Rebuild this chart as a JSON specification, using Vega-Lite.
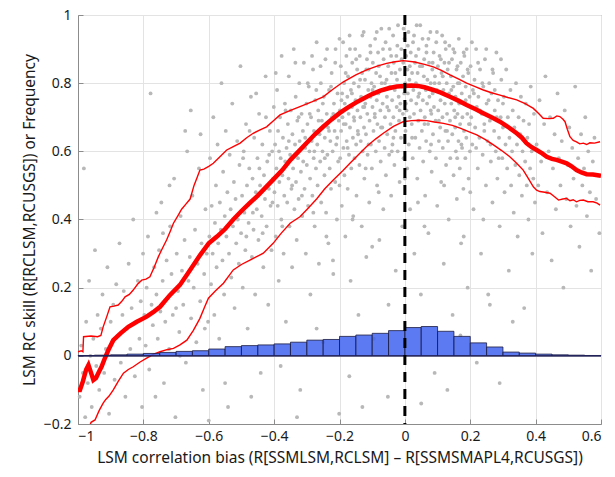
{
"$schema":"https://vega.github.io/schema/vega-lite/v6.json",
"autosize":"none","width":523,"height":409,
"padding":{"left":78,"top":15,"right":14,"bottom":53},
"background":"white",
"config":{"view":{"stroke":"#8c8c8c","strokeWidth":1},
"axis":{"gridColor":"#e3e3e3","domainColor":"#8c8c8c","tickColor":"#8c8c8c","tickSize":-5,"labelFont":"Noto Sans","titleFont":"Noto Sans","labelFontSize":14,"titleFontSize":15.5,"labelColor":"#1a1a1a","titleColor":"#1a1a1a","titleFontWeight":"normal"}},
"datasets":{
"zero":[{"v":0}],
"pts":[
{"x":-0.995,"y":-0.12},{"x":-0.99,"y":0.03},{"x":-0.985,"y":-0.05},{"x":-0.982,"y":0.55},{"x":-0.978,"y":-0.18},{"x":-0.975,"y":0.1},{"x":-0.97,"y":-0.08},{"x":-0.966,"y":0.22},{"x":-0.962,"y":0.0},{"x":-0.958,"y":-0.15},{"x":-0.953,"y":0.05},{"x":-0.948,"y":0.31},{"x":-0.944,"y":-0.03},{"x":-0.94,"y":0.12},{"x":-0.935,"y":-0.1},{"x":-0.93,"y":0.08},{"x":-0.925,"y":0.18},{"x":-0.92,"y":-0.05},{"x":-0.915,"y":0.02},{"x":-0.91,"y":0.26},{"x":-0.905,"y":-0.17},{"x":-0.9,"y":0.1},{"x":-0.896,"y":0.04},{"x":-0.892,"y":0.15},{"x":-0.888,"y":-0.07},{"x":-0.883,"y":0.21},{"x":-0.878,"y":0.06},{"x":-0.873,"y":0.33},{"x":-0.869,"y":-0.02},{"x":-0.864,"y":0.12},{"x":-0.86,"y":0.19},{"x":-0.855,"y":-0.12},{"x":-0.85,"y":0.08},{"x":-0.845,"y":0.27},{"x":-0.84,"y":0.02},{"x":-0.836,"y":0.14},{"x":-0.831,"y":0.4},{"x":-0.826,"y":-0.06},{"x":-0.822,"y":0.1},{"x":-0.817,"y":0.22},{"x":-0.812,"y":0.05},{"x":-0.808,"y":0.16},{"x":-0.804,"y":-0.15},{"x":-0.801,"y":0.3},
{"x":-0.797,"y":0.12},{"x":-0.793,"y":0.03},{"x":-0.79,"y":0.2},{"x":-0.786,"y":0.35},{"x":-0.782,"y":-0.04},{"x":-0.778,"y":0.77},{"x":-0.775,"y":0.15},{"x":-0.771,"y":0.09},{"x":-0.767,"y":0.26},{"x":-0.763,"y":-0.12},{"x":-0.76,"y":0.18},{"x":-0.756,"y":0.05},{"x":-0.752,"y":0.31},{"x":-0.748,"y":0.13},{"x":-0.745,"y":0.45},{"x":-0.741,"y":0.22},{"x":-0.737,"y":-0.08},{"x":-0.733,"y":0.1},{"x":-0.729,"y":0.28},{"x":-0.725,"y":0.17},{"x":-0.721,"y":0.02},{"x":-0.718,"y":0.38},{"x":-0.714,"y":0.24},{"x":-0.71,"y":0.12},{"x":-0.706,"y":0.52},{"x":-0.702,"y":-0.18},{"x":-0.698,"y":0.3},{"x":-0.694,"y":0.19},{"x":-0.69,"y":0.07},{"x":-0.686,"y":0.41},{"x":-0.682,"y":0.25},{"x":-0.678,"y":0.15},{"x":-0.674,"y":0.34},{"x":-0.67,"y":-0.02},{"x":-0.666,"y":0.6},{"x":-0.662,"y":0.22},{"x":-0.658,"y":0.29},{"x":-0.654,"y":0.11},{"x":-0.65,"y":0.47},{"x":-0.646,"y":0.2},{"x":-0.642,"y":0.37},{"x":-0.638,"y":0.04},{"x":-0.634,"y":0.27},{"x":-0.63,"y":0.55},{"x":-0.626,"y":0.16},{"x":-0.622,"y":0.33},{"x":-0.618,"y":-0.1},{"x":-0.614,"y":0.24},{"x":-0.61,"y":0.43},{"x":-0.606,"y":0.3},{"x":-0.602,"y":0.1},{"x":-0.672,"y":0.66},{"x":-0.72,"y":0.5},{"x":-0.74,"y":0.36},{"x":-0.688,"y":0.0},{"x":-0.655,"y":0.72},{"x":-0.625,"y":0.65},{"x":-0.76,"y":0.42},{"x":-0.7,"y":0.14},{"x":-0.612,"y":0.08},
{"x":-0.598,"y":0.35},{"x":-0.596,"y":0.58},{"x":-0.593,"y":0.21},{"x":-0.591,"y":0.44},{"x":-0.588,"y":0.3},{"x":-0.586,"y":0.7},{"x":-0.583,"y":0.12},{"x":-0.581,"y":0.39},{"x":-0.578,"y":0.5},{"x":-0.576,"y":0.26},{"x":-0.573,"y":0.62},{"x":-0.571,"y":0.33},{"x":-0.568,"y":0.05},{"x":-0.566,"y":0.45},{"x":-0.563,"y":0.37},{"x":-0.561,"y":0.8},{"x":-0.558,"y":0.28},{"x":-0.556,"y":0.54},{"x":-0.553,"y":0.18},{"x":-0.551,"y":0.41},{"x":-0.548,"y":0.66},{"x":-0.546,"y":0.35},{"x":-0.543,"y":0.48},{"x":-0.541,"y":-0.15},{"x":-0.538,"y":0.3},{"x":-0.536,"y":0.59},{"x":-0.533,"y":0.43},{"x":-0.531,"y":0.23},{"x":-0.528,"y":0.74},{"x":-0.526,"y":0.38},{"x":-0.523,"y":0.51},{"x":-0.521,"y":0.14},{"x":-0.518,"y":0.46},{"x":-0.516,"y":0.33},{"x":-0.513,"y":0.63},{"x":-0.511,"y":0.4},{"x":-0.508,"y":0.27},{"x":-0.506,"y":0.56},{"x":-0.503,"y":0.85},{"x":-0.501,"y":0.36},{"x":-0.498,"y":0.47},{"x":-0.496,"y":0.2},{"x":-0.493,"y":0.6},{"x":-0.491,"y":0.42},{"x":-0.488,"y":0.31},{"x":-0.486,"y":0.68},{"x":-0.483,"y":0.5},{"x":-0.481,"y":0.08},{"x":-0.478,"y":0.39},{"x":-0.476,"y":0.55},{"x":-0.473,"y":0.45},{"x":-0.471,"y":0.76},{"x":-0.468,"y":0.29},{"x":-0.466,"y":0.52},{"x":-0.463,"y":0.37},{"x":-0.461,"y":0.64},{"x":-0.458,"y":0.18},{"x":-0.456,"y":0.48},{"x":-0.453,"y":0.43},{"x":-0.451,"y":0.58},{"x":-0.448,"y":0.34},{"x":-0.446,"y":0.71},{"x":-0.443,"y":0.5},{"x":-0.441,"y":-0.05},{"x":-0.438,"y":0.41},{"x":-0.436,"y":0.62},{"x":-0.433,"y":0.26},{"x":-0.431,"y":0.53},{"x":-0.428,"y":0.46},{"x":-0.426,"y":0.82},{"x":-0.423,"y":0.38},{"x":-0.421,"y":0.57},{"x":-0.418,"y":0.15},{"x":-0.416,"y":0.49},{"x":-0.413,"y":0.66},{"x":-0.411,"y":0.44},{"x":-0.408,"y":0.31},{"x":-0.406,"y":0.6},{"x":-0.403,"y":0.52},{"x":-0.401,"y":0.73},
{"x":-0.399,"y":0.48},{"x":-0.397,"y":0.62},{"x":-0.395,"y":0.35},{"x":-0.393,"y":0.55},{"x":-0.391,"y":0.78},{"x":-0.389,"y":0.44},{"x":-0.388,"y":0.66},{"x":-0.386,"y":0.22},{"x":-0.384,"y":0.51},{"x":-0.382,"y":0.7},{"x":-0.38,"y":0.58},{"x":-0.378,"y":0.4},{"x":-0.377,"y":0.88},{"x":-0.375,"y":0.53},{"x":-0.373,"y":0.64},{"x":-0.371,"y":0.3},{"x":-0.369,"y":0.47},{"x":-0.367,"y":0.74},{"x":-0.366,"y":0.57},{"x":-0.364,"y":0.1},{"x":-0.362,"y":0.61},{"x":-0.36,"y":0.45},{"x":-0.358,"y":0.68},{"x":-0.356,"y":0.52},{"x":-0.355,"y":0.82},{"x":-0.353,"y":0.38},{"x":-0.351,"y":0.59},{"x":-0.349,"y":0.72},{"x":-0.347,"y":0.49},{"x":-0.345,"y":0.26},{"x":-0.344,"y":0.65},{"x":-0.342,"y":0.55},{"x":-0.34,"y":0.9},{"x":-0.338,"y":0.43},{"x":-0.336,"y":0.62},{"x":-0.334,"y":0.76},{"x":-0.333,"y":0.51},{"x":-0.331,"y":0.34},{"x":-0.329,"y":0.69},{"x":-0.327,"y":0.58},{"x":-0.325,"y":0.46},{"x":-0.323,"y":0.8},{"x":-0.322,"y":0.63},{"x":-0.32,"y":-0.1},{"x":-0.318,"y":0.54},{"x":-0.316,"y":0.71},{"x":-0.314,"y":0.41},{"x":-0.312,"y":0.66},{"x":-0.311,"y":0.57},{"x":-0.309,"y":0.86},{"x":-0.307,"y":0.49},{"x":-0.305,"y":0.61},{"x":-0.303,"y":0.3},{"x":-0.301,"y":0.74},{"x":-0.3,"y":0.56},{"x":-0.298,"y":0.68},{"x":-0.296,"y":0.44},{"x":-0.294,"y":0.79},{"x":-0.292,"y":0.6},{"x":-0.29,"y":0.52},{"x":-0.289,"y":0.18},{"x":-0.287,"y":0.7},{"x":-0.285,"y":0.63},{"x":-0.283,"y":0.47},{"x":-0.281,"y":0.84},{"x":-0.279,"y":0.58},{"x":-0.278,"y":0.66},{"x":-0.276,"y":0.38},{"x":-0.274,"y":0.75},{"x":-0.272,"y":0.55},{"x":-0.27,"y":0.92},{"x":-0.268,"y":0.62},{"x":-0.267,"y":0.5},{"x":-0.265,"y":0.72},{"x":-0.263,"y":0.27},{"x":-0.261,"y":0.65},{"x":-0.259,"y":0.57},{"x":-0.257,"y":0.8},{"x":-0.256,"y":0.45},{"x":-0.254,"y":0.69},{"x":-0.252,"y":0.6},{"x":-0.25,"y":0.04},{"x":-0.248,"y":0.76},{"x":-0.246,"y":0.53},{"x":-0.245,"y":0.64},{"x":-0.243,"y":0.87},{"x":-0.241,"y":0.42},{"x":-0.239,"y":0.71},{"x":-0.237,"y":0.59},{"x":-0.235,"y":0.67},{"x":-0.234,"y":0.33},{"x":-0.232,"y":0.78},{"x":-0.23,"y":0.55},{"x":-0.228,"y":0.63},{"x":-0.226,"y":0.49},{"x":-0.224,"y":0.83},{"x":-0.223,"y":0.7},{"x":-0.221,"y":0.6},{"x":-0.219,"y":0.24},{"x":-0.217,"y":0.74},{"x":-0.215,"y":0.66},{"x":-0.213,"y":0.51},{"x":-0.212,"y":0.9},{"x":-0.21,"y":0.62},{"x":-0.208,"y":0.4},{"x":-0.206,"y":0.77},{"x":-0.204,"y":0.57},{"x":-0.202,"y":0.69},{"x":-0.201,"y":-0.17},
{"x":-0.199,"y":0.72},{"x":-0.198,"y":0.58},{"x":-0.196,"y":0.85},{"x":-0.195,"y":0.66},{"x":-0.193,"y":0.44},{"x":-0.192,"y":0.77},{"x":-0.191,"y":0.7},{"x":-0.189,"y":0.92},{"x":-0.188,"y":0.61},{"x":-0.186,"y":0.8},{"x":-0.185,"y":0.53},{"x":-0.184,"y":0.74},{"x":-0.182,"y":0.35},{"x":-0.181,"y":0.68},{"x":-0.179,"y":0.88},{"x":-0.178,"y":0.63},{"x":-0.176,"y":0.76},{"x":-0.175,"y":0.49},{"x":-0.174,"y":0.82},{"x":-0.172,"y":0.71},{"x":-0.171,"y":0.59},{"x":-0.169,"y":0.94},{"x":-0.168,"y":0.67},{"x":-0.166,"y":0.22},{"x":-0.165,"y":0.78},{"x":-0.164,"y":0.55},{"x":-0.162,"y":0.73},{"x":-0.161,"y":0.86},{"x":-0.159,"y":0.64},{"x":-0.158,"y":0.41},{"x":-0.156,"y":0.8},{"x":-0.155,"y":0.69},{"x":-0.154,"y":0.58},{"x":-0.152,"y":0.9},{"x":-0.151,"y":0.75},{"x":-0.149,"y":0.62},{"x":-0.148,"y":0.47},{"x":-0.146,"y":0.84},{"x":-0.145,"y":0.72},{"x":-0.144,"y":0.66},{"x":-0.142,"y":0.12},{"x":-0.141,"y":0.79},{"x":-0.139,"y":0.56},{"x":-0.138,"y":0.88},{"x":-0.136,"y":0.7},{"x":-0.135,"y":0.63},{"x":-0.134,"y":0.76},{"x":-0.132,"y":0.38},{"x":-0.131,"y":0.83},{"x":-0.129,"y":0.6},{"x":-0.128,"y":0.73},{"x":-0.126,"y":0.95},{"x":-0.125,"y":0.67},{"x":-0.124,"y":0.52},{"x":-0.122,"y":0.81},{"x":-0.121,"y":0.74},{"x":-0.119,"y":0.65},{"x":-0.118,"y":0.29},{"x":-0.116,"y":0.87},{"x":-0.115,"y":0.71},{"x":-0.114,"y":0.59},{"x":-0.112,"y":0.78},{"x":-0.111,"y":0.84},{"x":-0.109,"y":0.45},{"x":-0.108,"y":0.69},{"x":-0.106,"y":0.91},{"x":-0.105,"y":0.76},{"x":-0.104,"y":0.62},{"x":-0.102,"y":0.8},{"x":-0.101,"y":0.55},{"x":-0.099,"y":0.73},{"x":-0.098,"y":0.86},{"x":-0.096,"y":0.66},{"x":-0.095,"y":0.05},{"x":-0.094,"y":0.79},{"x":-0.092,"y":0.7},{"x":-0.091,"y":0.93},{"x":-0.089,"y":0.6},{"x":-0.088,"y":0.83},{"x":-0.086,"y":0.75},{"x":-0.085,"y":0.5},{"x":-0.084,"y":0.68},{"x":-0.082,"y":0.89},{"x":-0.081,"y":0.77},{"x":-0.079,"y":0.63},{"x":-0.078,"y":0.34},{"x":-0.076,"y":0.82},{"x":-0.075,"y":0.72},{"x":-0.074,"y":0.57},{"x":-0.072,"y":0.96},{"x":-0.071,"y":0.8},{"x":-0.069,"y":0.67},{"x":-0.068,"y":0.74},{"x":-0.066,"y":0.43},{"x":-0.065,"y":0.87},{"x":-0.064,"y":0.78},{"x":-0.062,"y":0.61},{"x":-0.061,"y":0.7},{"x":-0.059,"y":0.92},{"x":-0.058,"y":0.53},{"x":-0.056,"y":0.81},{"x":-0.055,"y":0.76},{"x":-0.054,"y":0.65},{"x":-0.052,"y":-0.12},{"x":-0.051,"y":0.85},{"x":-0.049,"y":0.72},{"x":-0.048,"y":0.59},{"x":-0.046,"y":0.9},{"x":-0.045,"y":0.79},{"x":-0.044,"y":0.68},{"x":-0.042,"y":0.47},{"x":-0.041,"y":0.83},{"x":-0.039,"y":0.75},{"x":-0.038,"y":0.62},{"x":-0.036,"y":0.94},{"x":-0.035,"y":0.7},{"x":-0.034,"y":0.86},{"x":-0.032,"y":0.56},{"x":-0.031,"y":0.78},{"x":-0.029,"y":0.66},{"x":-0.028,"y":0.25},{"x":-0.026,"y":0.88},{"x":-0.025,"y":0.73},{"x":-0.024,"y":0.81},{"x":-0.022,"y":0.6},{"x":-0.021,"y":0.97},{"x":-0.019,"y":0.76},{"x":-0.018,"y":0.69},{"x":-0.016,"y":0.51},{"x":-0.015,"y":0.84},{"x":-0.014,"y":0.74},{"x":-0.012,"y":0.64},{"x":-0.011,"y":0.9},{"x":-0.009,"y":0.79},{"x":-0.008,"y":0.38},{"x":-0.006,"y":0.71},{"x":-0.005,"y":0.86},{"x":-0.004,"y":0.58},{"x":-0.002,"y":0.77},{"x":-0.001,"y":0.93},
{"x":0.001,"y":0.8},{"x":0.002,"y":0.66},{"x":0.004,"y":0.88},{"x":0.005,"y":0.72},{"x":0.007,"y":0.55},{"x":0.008,"y":0.84},{"x":0.009,"y":0.77},{"x":0.011,"y":0.95},{"x":0.012,"y":0.62},{"x":0.014,"y":0.81},{"x":0.015,"y":0.7},{"x":0.016,"y":0.43},{"x":0.018,"y":0.89},{"x":0.019,"y":0.75},{"x":0.021,"y":0.68},{"x":0.022,"y":0.83},{"x":0.024,"y":0.58},{"x":0.025,"y":0.92},{"x":0.026,"y":0.78},{"x":0.028,"y":0.71},{"x":0.029,"y":0.3},{"x":0.031,"y":0.86},{"x":0.032,"y":0.64},{"x":0.034,"y":0.8},{"x":0.035,"y":0.74},{"x":0.036,"y":0.97},{"x":0.038,"y":0.52},{"x":0.039,"y":0.83},{"x":0.041,"y":0.69},{"x":0.042,"y":0.9},{"x":0.044,"y":0.77},{"x":0.045,"y":0.61},{"x":0.046,"y":0.85},{"x":0.048,"y":0.72},{"x":0.049,"y":0.18},{"x":0.051,"y":0.79},{"x":0.052,"y":0.66},{"x":0.054,"y":0.93},{"x":0.055,"y":0.75},{"x":0.056,"y":0.57},{"x":0.058,"y":0.82},{"x":0.059,"y":0.87},{"x":0.061,"y":0.7},{"x":0.062,"y":0.47},{"x":0.064,"y":0.78},{"x":0.065,"y":0.63},{"x":0.066,"y":0.91},{"x":0.068,"y":0.74},{"x":0.069,"y":0.81},{"x":0.071,"y":0.68},{"x":0.072,"y":0.36},{"x":0.074,"y":0.86},{"x":0.075,"y":0.76},{"x":0.076,"y":0.6},{"x":0.078,"y":0.95},{"x":0.079,"y":0.8},{"x":0.081,"y":0.71},{"x":0.082,"y":0.54},{"x":0.084,"y":0.84},{"x":0.085,"y":0.77},{"x":0.086,"y":0.65},{"x":0.088,"y":0.89},{"x":0.089,"y":0.73},{"x":0.091,"y":-0.05},{"x":0.092,"y":0.82},{"x":0.094,"y":0.69},{"x":0.095,"y":0.58},{"x":0.096,"y":0.92},{"x":0.098,"y":0.78},{"x":0.099,"y":0.44},{"x":0.101,"y":0.85},{"x":0.102,"y":0.72},{"x":0.104,"y":0.63},{"x":0.105,"y":0.8},{"x":0.106,"y":0.88},{"x":0.108,"y":0.67},{"x":0.109,"y":0.75},{"x":0.111,"y":0.51},{"x":0.112,"y":0.83},{"x":0.114,"y":0.94},{"x":0.115,"y":0.7},{"x":0.116,"y":0.61},{"x":0.118,"y":0.78},{"x":0.119,"y":0.27},{"x":0.121,"y":0.86},{"x":0.122,"y":0.74},{"x":0.124,"y":0.66},{"x":0.125,"y":0.9},{"x":0.126,"y":0.56},{"x":0.128,"y":0.8},{"x":0.129,"y":0.71},{"x":0.131,"y":0.84},{"x":0.132,"y":0.63},{"x":0.134,"y":0.4},{"x":0.135,"y":0.77},{"x":0.136,"y":0.91},{"x":0.138,"y":0.69},{"x":0.139,"y":0.58},{"x":0.141,"y":0.82},{"x":0.142,"y":0.74},{"x":0.144,"y":0.87},{"x":0.145,"y":0.65},{"x":0.146,"y":0.12},{"x":0.148,"y":0.79},{"x":0.149,"y":0.53},{"x":0.151,"y":0.72},{"x":0.152,"y":0.89},{"x":0.154,"y":0.67},{"x":0.155,"y":0.76},{"x":0.156,"y":0.6},{"x":0.158,"y":0.84},{"x":0.159,"y":0.46},{"x":0.161,"y":0.71},{"x":0.162,"y":0.8},{"x":0.164,"y":0.63},{"x":0.165,"y":0.93},{"x":0.166,"y":0.74},{"x":0.168,"y":0.55},{"x":0.169,"y":0.68},{"x":0.171,"y":0.86},{"x":0.172,"y":0.33},{"x":0.174,"y":0.77},{"x":0.175,"y":0.61},{"x":0.176,"y":0.7},{"x":0.178,"y":0.82},{"x":0.179,"y":0.49},{"x":0.181,"y":0.66},{"x":0.182,"y":0.88},{"x":0.184,"y":0.74},{"x":0.185,"y":0.58},{"x":0.186,"y":0.79},{"x":0.188,"y":0.64},{"x":0.189,"y":0.9},{"x":0.191,"y":0.71},{"x":0.192,"y":0.2},{"x":0.194,"y":0.83},{"x":0.195,"y":0.52},{"x":0.196,"y":0.68},{"x":0.198,"y":0.76},{"x":0.199,"y":0.6},
{"x":0.201,"y":0.85},{"x":0.203,"y":0.7},{"x":0.206,"y":0.62},{"x":0.208,"y":0.78},{"x":0.21,"y":0.43},{"x":0.213,"y":0.81},{"x":0.215,"y":0.67},{"x":0.218,"y":0.9},{"x":0.22,"y":0.73},{"x":0.223,"y":0.55},{"x":0.225,"y":0.76},{"x":0.228,"y":0.64},{"x":0.23,"y":0.84},{"x":0.233,"y":0.3},{"x":0.235,"y":0.71},{"x":0.238,"y":0.59},{"x":0.24,"y":0.79},{"x":0.243,"y":0.68},{"x":0.245,"y":0.87},{"x":0.248,"y":0.5},{"x":0.25,"y":0.74},{"x":0.253,"y":0.63},{"x":0.255,"y":0.18},{"x":0.258,"y":0.8},{"x":0.26,"y":0.69},{"x":0.263,"y":0.57},{"x":0.265,"y":0.77},{"x":0.268,"y":0.45},{"x":0.27,"y":0.83},{"x":0.273,"y":0.66},{"x":0.275,"y":0.72},{"x":0.278,"y":0.6},{"x":0.28,"y":0.89},{"x":0.283,"y":0.52},{"x":0.285,"y":0.75},{"x":0.288,"y":0.64},{"x":0.29,"y":0.38},{"x":0.293,"y":0.7},{"x":0.295,"y":0.81},{"x":0.298,"y":0.58},{"x":0.3,"y":0.67},{"x":0.303,"y":0.76},{"x":0.305,"y":0.48},{"x":0.308,"y":0.62},{"x":0.31,"y":0.84},{"x":0.313,"y":0.55},{"x":0.315,"y":0.7},{"x":0.318,"y":0.25},{"x":0.32,"y":0.64},{"x":0.323,"y":0.78},{"x":0.325,"y":0.5},{"x":0.328,"y":0.6},{"x":0.33,"y":0.72},{"x":0.333,"y":0.42},{"x":0.335,"y":0.67},{"x":0.338,"y":0.56},{"x":0.34,"y":0.8},{"x":0.343,"y":0.62},{"x":0.345,"y":0.35},{"x":0.348,"y":0.7},{"x":0.35,"y":0.53},{"x":0.353,"y":0.65},{"x":0.355,"y":0.76},{"x":0.358,"y":0.47},{"x":0.36,"y":0.6},{"x":0.363,"y":0.69},{"x":0.365,"y":0.14},{"x":0.368,"y":0.57},{"x":0.37,"y":0.74},{"x":0.373,"y":0.5},{"x":0.375,"y":0.64},{"x":0.378,"y":0.4},{"x":0.38,"y":0.68},{"x":0.383,"y":0.55},{"x":0.385,"y":0.79},{"x":0.388,"y":0.6},{"x":0.39,"y":0.3},{"x":0.393,"y":0.52},{"x":0.395,"y":0.71},{"x":0.398,"y":0.45},
{"x":0.403,"y":0.62},{"x":0.408,"y":0.5},{"x":0.412,"y":0.75},{"x":0.417,"y":0.57},{"x":0.421,"y":0.36},{"x":0.426,"y":0.68},{"x":0.43,"y":0.82},{"x":0.435,"y":0.48},{"x":0.44,"y":0.6},{"x":0.444,"y":0.7},{"x":0.449,"y":0.28},{"x":0.453,"y":0.55},{"x":0.458,"y":0.65},{"x":0.462,"y":0.43},{"x":0.467,"y":0.77},{"x":0.471,"y":0.58},{"x":0.476,"y":0.5},{"x":0.48,"y":0.63},{"x":0.485,"y":0.2},{"x":0.489,"y":0.72},{"x":0.494,"y":0.46},{"x":0.498,"y":0.56},{"x":0.503,"y":0.67},{"x":0.507,"y":0.38},{"x":0.512,"y":0.61},{"x":0.516,"y":0.52},{"x":0.521,"y":0.79},{"x":0.525,"y":0.44},{"x":0.53,"y":0.58},{"x":0.534,"y":0.32},{"x":0.539,"y":0.65},{"x":0.543,"y":0.5},{"x":0.548,"y":0.55},{"x":0.552,"y":0.7},{"x":0.557,"y":0.41},{"x":0.561,"y":0.6},{"x":0.566,"y":0.48},{"x":0.57,"y":0.25},{"x":0.575,"y":0.57},{"x":0.58,"y":0.64},{"x":0.585,"y":0.46},{"x":0.59,"y":0.53},{"x":0.595,"y":0.36},
{"x":-0.55,"y":-0.08},{"x":-0.47,"y":-0.12},{"x":-0.38,"y":-0.03},{"x":-0.33,"y":-0.18},{"x":-0.17,"y":-0.06},{"x":-0.13,"y":-0.15},{"x":0.05,"y":-0.14},{"x":0.13,"y":-0.1},{"x":0.22,"y":-0.02},{"x":0.29,"y":-0.08},{"x":0.33,"y":0.1},{"x":-0.6,"y":-0.19},{"x":-0.27,"y":0.08},{"x":-0.05,"y":0.15},{"x":0.17,"y":0.06},{"x":0.26,"y":0.15},
{"x":-0.297,"y":0.8},{"x":-0.291,"y":0.71},{"x":-0.284,"y":0.88},{"x":-0.277,"y":0.6},{"x":-0.271,"y":0.78},{"x":-0.264,"y":0.69},{"x":-0.258,"y":0.85},{"x":-0.251,"y":0.74},{"x":-0.245,"y":0.58},{"x":-0.238,"y":0.9},{"x":-0.232,"y":0.66},{"x":-0.226,"y":0.79},{"x":-0.219,"y":0.71},{"x":-0.213,"y":0.86},{"x":-0.207,"y":0.64},{"x":-0.2,"y":0.93},{"x":-0.194,"y":0.75},{"x":-0.187,"y":0.68},{"x":-0.181,"y":0.83},{"x":-0.175,"y":0.61},{"x":-0.168,"y":0.9},{"x":-0.162,"y":0.77},{"x":-0.156,"y":0.7},{"x":-0.149,"y":0.87},{"x":-0.143,"y":0.65},{"x":-0.137,"y":0.81},{"x":-0.13,"y":0.94},{"x":-0.124,"y":0.73},{"x":-0.118,"y":0.84},{"x":-0.111,"y":0.62},{"x":-0.105,"y":0.89},{"x":-0.099,"y":0.78},{"x":-0.092,"y":0.71},{"x":-0.086,"y":0.95},{"x":-0.08,"y":0.85},{"x":-0.073,"y":0.67},{"x":-0.067,"y":0.9},{"x":-0.061,"y":0.8},{"x":-0.054,"y":0.73},{"x":-0.048,"y":0.96},{"x":-0.042,"y":0.88},{"x":-0.035,"y":0.64},{"x":-0.029,"y":0.83},{"x":-0.023,"y":0.91},{"x":-0.016,"y":0.72},{"x":-0.01,"y":0.87},{"x":-0.004,"y":0.96},{"x":0.003,"y":0.74},{"x":0.009,"y":0.91},{"x":0.015,"y":0.85},{"x":0.022,"y":0.64},{"x":0.028,"y":0.94},{"x":0.034,"y":0.88},{"x":0.041,"y":0.76},{"x":0.047,"y":0.97},{"x":0.053,"y":0.85},{"x":0.06,"y":0.68},{"x":0.066,"y":0.89},{"x":0.072,"y":0.93},{"x":0.079,"y":0.72},{"x":0.085,"y":0.86},{"x":0.091,"y":0.8},{"x":0.098,"y":0.95},{"x":0.104,"y":0.69},{"x":0.11,"y":0.87},{"x":0.116,"y":0.82},{"x":0.123,"y":0.92},{"x":0.129,"y":0.66},{"x":0.135,"y":0.86},{"x":0.142,"y":0.78},{"x":0.148,"y":0.9},{"x":0.154,"y":0.7},{"x":0.161,"y":0.85},{"x":0.167,"y":0.8},{"x":0.173,"y":0.62},{"x":0.18,"y":0.89},{"x":0.186,"y":0.75},{"x":0.192,"y":0.84},{"x":0.199,"y":0.68},{"x":0.205,"y":0.92},{"x":0.211,"y":0.77},{"x":0.218,"y":0.61},{"x":0.224,"y":0.86},{"x":0.23,"y":0.72},{"x":0.237,"y":0.8},{"x":0.243,"y":0.66},{"x":0.249,"y":0.9},{"x":0.256,"y":0.75},{"x":0.262,"y":0.62},{"x":0.268,"y":0.84},{"x":0.275,"y":0.78},{"x":0.281,"y":0.7},{"x":0.287,"y":0.58},{"x":0.294,"y":0.87},{"x":0.3,"y":0.74},
{"x":-0.495,"y":0.58},{"x":-0.485,"y":0.35},{"x":-0.475,"y":0.66},{"x":-0.465,"y":0.42},{"x":-0.455,"y":0.77},{"x":-0.445,"y":0.55},{"x":-0.435,"y":0.36},{"x":-0.425,"y":0.7},{"x":-0.415,"y":0.59},{"x":-0.405,"y":0.45},{"x":-0.395,"y":0.83},{"x":-0.385,"y":0.6},{"x":-0.375,"y":0.38},{"x":-0.365,"y":0.72},{"x":-0.355,"y":0.63},{"x":-0.345,"y":0.5},{"x":-0.335,"y":0.86},{"x":-0.325,"y":0.7},{"x":-0.315,"y":0.47},{"x":-0.305,"y":0.64},
{"x":-0.28,"y":0.42},{"x":-0.24,"y":0.35},{"x":-0.2,"y":0.5},{"x":-0.16,"y":0.4},{"x":-0.12,"y":0.55},{"x":-0.08,"y":0.48},{"x":-0.04,"y":0.6},{"x":0.0,"y":0.52},{"x":0.04,"y":0.45},{"x":0.08,"y":0.62},{"x":0.12,"y":0.5},{"x":0.16,"y":0.58},{"x":0.2,"y":0.48},{"x":0.24,"y":0.4},{"x":-0.22,"y":0.28},{"x":-0.1,"y":0.32},{"x":0.06,"y":0.38},{"x":0.18,"y":0.35}
],
"hist":[
{"x0":-1,"x1":-0.95,"f":0.001},{"x0":-0.95,"x1":-0.9,"f":0.002},{"x0":-0.9,"x1":-0.85,"f":0.003},{"x0":-0.85,"x1":-0.8,"f":0.005},{"x0":-0.8,"x1":-0.75,"f":0.007},{"x0":-0.75,"x1":-0.7,"f":0.01},{"x0":-0.7,"x1":-0.65,"f":0.013},{"x0":-0.65,"x1":-0.6,"f":0.015},{"x0":-0.6,"x1":-0.55,"f":0.02},{"x0":-0.55,"x1":-0.5,"f":0.027},{"x0":-0.5,"x1":-0.45,"f":0.03},{"x0":-0.45,"x1":-0.4,"f":0.032},{"x0":-0.4,"x1":-0.35,"f":0.035},{"x0":-0.35,"x1":-0.3,"f":0.04},{"x0":-0.3,"x1":-0.25,"f":0.046},{"x0":-0.25,"x1":-0.2,"f":0.048},{"x0":-0.2,"x1":-0.15,"f":0.057},{"x0":-0.15,"x1":-0.1,"f":0.061},{"x0":-0.1,"x1":-0.05,"f":0.066},{"x0":-0.05,"x1":0,"f":0.074},{"x0":0,"x1":0.05,"f":0.083},{"x0":0.05,"x1":0.1,"f":0.086},{"x0":0.1,"x1":0.15,"f":0.072},{"x0":0.15,"x1":0.2,"f":0.057},{"x0":0.2,"x1":0.25,"f":0.038},{"x0":0.25,"x1":0.3,"f":0.026},{"x0":0.3,"x1":0.35,"f":0.011},{"x0":0.35,"x1":0.4,"f":0.008},{"x0":0.4,"x1":0.45,"f":0.005},{"x0":0.45,"x1":0.5,"f":0.003},{"x0":0.5,"x1":0.55,"f":0.002},{"x0":0.55,"x1":0.6,"f":0.001}
],
"med":[
{"x":-1,"y":-0.1},{"x":-0.994,"y":-0.1},{"x":-0.985,"y":-0.075},{"x":-0.975,"y":-0.04},{"x":-0.968,"y":-0.027},{"x":-0.96,"y":-0.05},{"x":-0.953,"y":-0.071},{"x":-0.945,"y":-0.065},{"x":-0.935,"y":-0.045},{"x":-0.928,"y":-0.032},{"x":-0.917,"y":-0.005},{"x":-0.907,"y":0.017},{"x":-0.892,"y":0.046},{"x":-0.87,"y":0.066},{"x":-0.846,"y":0.085},{"x":-0.82,"y":0.1},{"x":-0.79,"y":0.115},{"x":-0.77,"y":0.128},{"x":-0.749,"y":0.144},{"x":-0.719,"y":0.178},{"x":-0.688,"y":0.208},{"x":-0.657,"y":0.252},{"x":-0.627,"y":0.295},{"x":-0.6,"y":0.33},{"x":-0.575,"y":0.35},{"x":-0.55,"y":0.372},{"x":-0.525,"y":0.4},{"x":-0.5,"y":0.425},{"x":-0.475,"y":0.448},{"x":-0.45,"y":0.47},{"x":-0.425,"y":0.495},{"x":-0.4,"y":0.52},{"x":-0.375,"y":0.545},{"x":-0.35,"y":0.575},{"x":-0.325,"y":0.6},{"x":-0.3,"y":0.625},{"x":-0.275,"y":0.65},{"x":-0.25,"y":0.672},{"x":-0.225,"y":0.693},{"x":-0.2,"y":0.712},{"x":-0.175,"y":0.728},{"x":-0.15,"y":0.743},{"x":-0.125,"y":0.756},{"x":-0.1,"y":0.768},{"x":-0.075,"y":0.778},{"x":-0.05,"y":0.785},{"x":-0.025,"y":0.79},{"x":0,"y":0.792},{"x":0.02,"y":0.793},{"x":0.04,"y":0.792},{"x":0.06,"y":0.788},{"x":0.087,"y":0.78},{"x":0.11,"y":0.772},{"x":0.138,"y":0.76},{"x":0.165,"y":0.748},{"x":0.189,"y":0.736},{"x":0.215,"y":0.724},{"x":0.24,"y":0.712},{"x":0.265,"y":0.7},{"x":0.291,"y":0.687},{"x":0.315,"y":0.672},{"x":0.342,"y":0.653},{"x":0.358,"y":0.64},{"x":0.372,"y":0.624},{"x":0.388,"y":0.612},{"x":0.403,"y":0.604},{"x":0.42,"y":0.594},{"x":0.434,"y":0.584},{"x":0.45,"y":0.578},{"x":0.464,"y":0.575},{"x":0.48,"y":0.57},{"x":0.495,"y":0.565},{"x":0.51,"y":0.556},{"x":0.525,"y":0.545},{"x":0.54,"y":0.538},{"x":0.556,"y":0.533},{"x":0.575,"y":0.532},{"x":0.6,"y":0.528}
],
"band":[
{"s":"u","x":-1,"y":0.012},{"s":"u","x":-0.99,"y":0.015},{"s":"u","x":-0.985,"y":0.012},{"s":"u","x":-0.983,"y":0.056},{"s":"u","x":-0.96,"y":0.058},{"s":"u","x":-0.94,"y":0.056},{"s":"u","x":-0.93,"y":0.06},{"s":"u","x":-0.923,"y":0.085},{"s":"u","x":-0.912,"y":0.115},{"s":"u","x":-0.902,"y":0.144},{"s":"u","x":-0.89,"y":0.146},{"s":"u","x":-0.877,"y":0.149},{"s":"u","x":-0.866,"y":0.16},{"s":"u","x":-0.856,"y":0.173},{"s":"u","x":-0.843,"y":0.18},{"s":"u","x":-0.831,"y":0.193},{"s":"u","x":-0.818,"y":0.21},{"s":"u","x":-0.805,"y":0.222},{"s":"u","x":-0.792,"y":0.225},{"s":"u","x":-0.78,"y":0.232},{"s":"u","x":-0.767,"y":0.26},{"s":"u","x":-0.754,"y":0.291},{"s":"u","x":-0.742,"y":0.315},{"s":"u","x":-0.729,"y":0.34},{"s":"u","x":-0.718,"y":0.365},{"s":"u","x":-0.708,"y":0.389},{"s":"u","x":-0.695,"y":0.41},{"s":"u","x":-0.683,"y":0.43},{"s":"u","x":-0.67,"y":0.445},{"s":"u","x":-0.657,"y":0.46},{"s":"u","x":-0.645,"y":0.5},{"s":"u","x":-0.635,"y":0.525},{"s":"u","x":-0.627,"y":0.545},{"s":"u","x":-0.615,"y":0.548},{"s":"u","x":-0.6,"y":0.556},{"s":"u","x":-0.586,"y":0.565},{"s":"u","x":-0.565,"y":0.585},{"s":"u","x":-0.545,"y":0.604},{"s":"u","x":-0.525,"y":0.614},{"s":"u","x":-0.504,"y":0.624},{"s":"u","x":-0.484,"y":0.64},{"s":"u","x":-0.464,"y":0.653},{"s":"u","x":-0.443,"y":0.663},{"s":"u","x":-0.423,"y":0.672},{"s":"u","x":-0.402,"y":0.69},{"s":"u","x":-0.382,"y":0.707},{"s":"u","x":-0.35,"y":0.72},{"s":"u","x":-0.321,"y":0.731},{"s":"u","x":-0.285,"y":0.745},{"s":"u","x":-0.25,"y":0.76},{"s":"u","x":-0.22,"y":0.782},{"s":"u","x":-0.188,"y":0.804},{"s":"u","x":-0.15,"y":0.824},{"s":"u","x":-0.117,"y":0.839},{"s":"u","x":-0.085,"y":0.85},{"s":"u","x":-0.056,"y":0.858},{"s":"u","x":-0.03,"y":0.863},{"s":"u","x":-0.005,"y":0.866},{"s":"u","x":0.03,"y":0.862},{"s":"u","x":0.06,"y":0.855},{"s":"u","x":0.087,"y":0.848},{"s":"u","x":0.11,"y":0.838},{"s":"u","x":0.138,"y":0.824},{"s":"u","x":0.165,"y":0.812},{"s":"u","x":0.189,"y":0.8},{"s":"u","x":0.215,"y":0.79},{"s":"u","x":0.24,"y":0.78},{"s":"u","x":0.265,"y":0.772},{"s":"u","x":0.291,"y":0.765},{"s":"u","x":0.315,"y":0.758},{"s":"u","x":0.342,"y":0.751},{"s":"u","x":0.368,"y":0.74},{"s":"u","x":0.393,"y":0.726},{"s":"u","x":0.41,"y":0.71},{"s":"u","x":0.423,"y":0.697},{"s":"u","x":0.44,"y":0.696},{"s":"u","x":0.454,"y":0.697},{"s":"u","x":0.465,"y":0.704},{"s":"u","x":0.474,"y":0.702},{"s":"u","x":0.483,"y":0.695},{"s":"u","x":0.49,"y":0.687},{"s":"u","x":0.497,"y":0.665},{"s":"u","x":0.505,"y":0.643},{"s":"u","x":0.515,"y":0.632},{"s":"u","x":0.525,"y":0.628},{"s":"u","x":0.535,"y":0.622},{"s":"u","x":0.546,"y":0.624},{"s":"u","x":0.556,"y":0.62},{"s":"u","x":0.566,"y":0.625},{"s":"u","x":0.58,"y":0.624},{"s":"u","x":0.597,"y":0.628},
{"s":"l","x":-0.97,"y":-0.22},{"s":"l","x":-0.96,"y":-0.195},{"s":"l","x":-0.948,"y":-0.188},{"s":"l","x":-0.935,"y":-0.16},{"s":"l","x":-0.923,"y":-0.139},{"s":"l","x":-0.915,"y":-0.128},{"s":"l","x":-0.905,"y":-0.118},{"s":"l","x":-0.892,"y":-0.1},{"s":"l","x":-0.877,"y":-0.075},{"s":"l","x":-0.861,"y":-0.051},{"s":"l","x":-0.846,"y":-0.04},{"s":"l","x":-0.831,"y":-0.032},{"s":"l","x":-0.81,"y":-0.018},{"s":"l","x":-0.79,"y":-0.007},{"s":"l","x":-0.77,"y":0.004},{"s":"l","x":-0.749,"y":0.012},{"s":"l","x":-0.728,"y":0.018},{"s":"l","x":-0.708,"y":0.022},{"s":"l","x":-0.688,"y":0.032},{"s":"l","x":-0.667,"y":0.046},{"s":"l","x":-0.647,"y":0.075},{"s":"l","x":-0.627,"y":0.11},{"s":"l","x":-0.612,"y":0.145},{"s":"l","x":-0.601,"y":0.169},{"s":"l","x":-0.58,"y":0.19},{"s":"l","x":-0.555,"y":0.213},{"s":"l","x":-0.525,"y":0.252},{"s":"l","x":-0.5,"y":0.268},{"s":"l","x":-0.474,"y":0.281},{"s":"l","x":-0.455,"y":0.29},{"s":"l","x":-0.433,"y":0.301},{"s":"l","x":-0.403,"y":0.33},{"s":"l","x":-0.378,"y":0.36},{"s":"l","x":-0.351,"y":0.389},{"s":"l","x":-0.321,"y":0.408},{"s":"l","x":-0.296,"y":0.433},{"s":"l","x":-0.27,"y":0.46},{"s":"l","x":-0.245,"y":0.49},{"s":"l","x":-0.219,"y":0.516},{"s":"l","x":-0.19,"y":0.543},{"s":"l","x":-0.168,"y":0.565},{"s":"l","x":-0.14,"y":0.592},{"s":"l","x":-0.117,"y":0.614},{"s":"l","x":-0.09,"y":0.636},{"s":"l","x":-0.066,"y":0.653},{"s":"l","x":-0.035,"y":0.673},{"s":"l","x":-0.005,"y":0.687},{"s":"l","x":0.02,"y":0.69},{"s":"l","x":0.045,"y":0.691},{"s":"l","x":0.067,"y":0.69},{"s":"l","x":0.09,"y":0.686},{"s":"l","x":0.118,"y":0.682},{"s":"l","x":0.145,"y":0.676},{"s":"l","x":0.169,"y":0.668},{"s":"l","x":0.195,"y":0.658},{"s":"l","x":0.22,"y":0.648},{"s":"l","x":0.245,"y":0.635},{"s":"l","x":0.271,"y":0.619},{"s":"l","x":0.295,"y":0.603},{"s":"l","x":0.321,"y":0.584},{"s":"l","x":0.342,"y":0.565},{"s":"l","x":0.362,"y":0.545},{"s":"l","x":0.378,"y":0.52},{"s":"l","x":0.393,"y":0.496},{"s":"l","x":0.403,"y":0.486},{"s":"l","x":0.413,"y":0.482},{"s":"l","x":0.428,"y":0.48},{"s":"l","x":0.444,"y":0.477},{"s":"l","x":0.456,"y":0.468},{"s":"l","x":0.47,"y":0.457},{"s":"l","x":0.483,"y":0.46},{"s":"l","x":0.495,"y":0.462},{"s":"l","x":0.505,"y":0.455},{"s":"l","x":0.515,"y":0.458},{"s":"l","x":0.525,"y":0.452},{"s":"l","x":0.535,"y":0.456},{"s":"l","x":0.546,"y":0.457},{"s":"l","x":0.56,"y":0.452},{"s":"l","x":0.576,"y":0.452},{"s":"l","x":0.588,"y":0.448},{"s":"l","x":0.597,"y":0.442}
]},
"layer":[
{"data":{"name":"pts"},"mark":{"type":"point","filled":true,"shape":"circle","size":15,"color":"#b8b8b8","opacity":1},
"encoding":{"x":{"field":"x","type":"quantitative","scale":{"domain":[-1,0.6],"nice":false,"zero":false},
"axis":{"values":[-1,-0.8,-0.6,-0.4,-0.2,0,0.2,0.4,0.6],"format":"~g","labelPadding":10,"titlePadding":7,"title":"LSM correlation bias (R[SSMLSM,RCLSM] – R[SSMSMAPL4,RCUSGS])"}},
"y":{"field":"y","type":"quantitative","scale":{"domain":[-0.2,1],"nice":false,"zero":false},
"axis":{"values":[-0.2,0,0.2,0.4,0.6,0.8,1],"format":"~g","labelPadding":12,"titlePadding":6,"title":"LSM RC skill (R[RCLSM,RCUSGS]) or Frequency"}}}},
{"data":{"name":"band"},"mark":{"type":"line","color":"#ff0000","strokeWidth":1.4,"clip":true},
"encoding":{"x":{"field":"x","type":"quantitative"},"y":{"field":"y","type":"quantitative"},"detail":{"field":"s","type":"nominal"}}},
{"data":{"name":"med"},"mark":{"type":"line","color":"#ff0000","strokeWidth":4.5,"clip":true},
"encoding":{"x":{"field":"x","type":"quantitative"},"y":{"field":"y","type":"quantitative"}}},
{"data":{"name":"hist"},"mark":{"type":"rect","fill":"#3f63ee","fillOpacity":0.85,"stroke":"#1b1b40","strokeWidth":0.8},
"encoding":{"x":{"field":"x0","type":"quantitative"},"x2":{"field":"x1"},"y":{"field":"f","type":"quantitative"},"y2":{"datum":0}}},
{"data":{"name":"zero"},"mark":{"type":"rule","color":"#1f1f5a","strokeWidth":1.3},"encoding":{"y":{"field":"v","type":"quantitative"}}},
{"data":{"name":"zero"},"mark":{"type":"rule","color":"#000000","strokeWidth":3,"strokeDash":[10,7]},"encoding":{"x":{"field":"v","type":"quantitative"}}}
]
}
